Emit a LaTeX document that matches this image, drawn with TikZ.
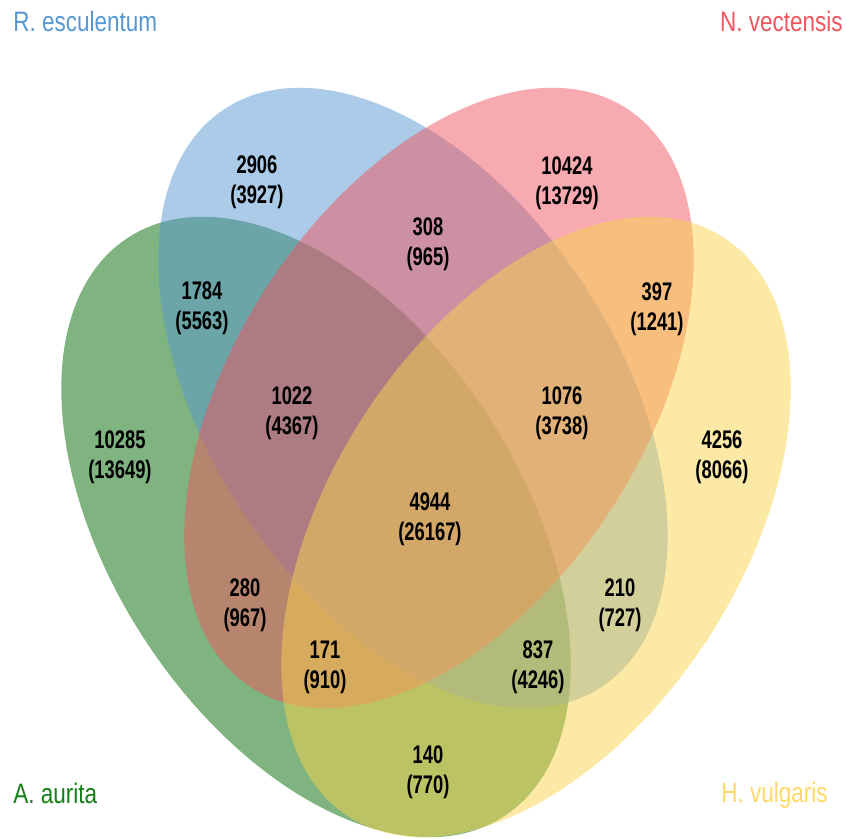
\documentclass[tikz,border=0pt]{standalone}
\usepackage{fontspec}
\setmainfont{Liberation Sans}
\newfontfamily\narrowfont[FakeStretch=0.72]{Liberation Sans}
\newfontfamily\labelfont[FakeStretch=0.8]{Liberation Sans}

\begin{document}
\begin{tikzpicture}[
    regioncount/.style={font=\narrowfont\bfseries\fontsize{14.5}{17}\selectfont, align=center},
    setname/.style={font=\labelfont\fontsize{16}{18}\selectfont, inner sep=0pt, anchor=base west}
  ]
    \definecolor{aurgreen}{RGB}{0,104,0}
    \definecolor{escblue}{RGB}{87,151,209}
    \definecolor{vecpink}{RGB}{239,85,95}
    \definecolor{vulyellow}{RGB}{249,211,77}
    \definecolor{aurtext}{RGB}{20,128,20}
    \definecolor{vultext}{RGB}{255,217,102}

    \useasboundingbox (0,0) rectangle (16.94,16.78);

    % the four sets, back to front
    \fill[aurgreen, fill opacity=0.5, rotate around={-57:(6.32,6.24)}]
      (6.32,6.24) ellipse [x radius=6.9cm, y radius=4.1cm];
    \fill[escblue, fill opacity=0.5, rotate around={-57:(8.26,8.82)}]
      (8.26,8.82) ellipse [x radius=6.9cm, y radius=4.1cm];
    \fill[vecpink, fill opacity=0.5, rotate around={57:(8.78,8.82)}]
      (8.78,8.82) ellipse [x radius=6.9cm, y radius=4.1cm];
    \fill[vulyellow, fill opacity=0.5, rotate around={57:(10.72,6.24)}]
      (10.72,6.24) ellipse [x radius=6.9cm, y radius=4.1cm];

    \foreach \x/\y/\cnt/\tot [count=\i] in {
      5.14/13.14/2906/3927,
      11.34/13.12/10424/13729,
      8.56/11.90/308/965,
      4.04/10.62/1784/5563,
      13.14/10.60/397/1241,
      5.84/8.52/1022/4367,
      11.24/8.52/1076/3738,
      2.40/7.64/10285/13649,
      14.44/7.64/4256/8066,
      8.60/6.40/4944/26167,
      4.90/4.68/280/967,
      12.40/4.68/210/727,
      6.50/3.44/171/910,
      10.76/3.44/837/4246,
      8.56/1.34/140/770%
    }{
      \node[regioncount] (region\i) at (\x,\y) {\cnt\\(\tot)};
    }

    \node[setname, text=escblue] (esc) at (0.26,16.14) {R. esculentum};
    \node[setname, text=vecpink, anchor=base east] (vec) at (16.86,16.14) {N. vectensis};
    \node[setname, text=aurtext] (aur) at (0.26,0.70) {A. aurita};
    \node[setname, text=vultext, anchor=base east] (vul) at (16.56,0.72) {H. vulgaris};
  \end{tikzpicture}
\end{document}
